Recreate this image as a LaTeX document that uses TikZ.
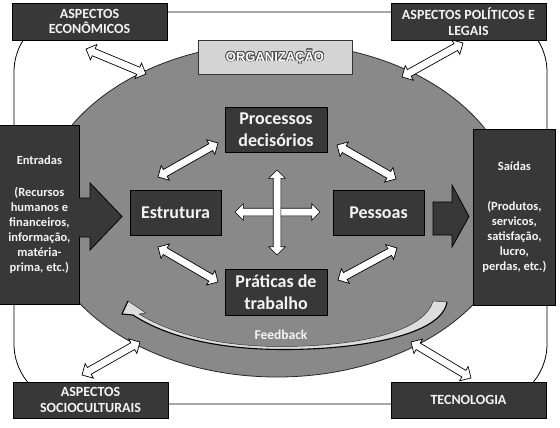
\documentclass[tikz,border=0pt]{standalone}
\usepackage{fontspec}
\setmainfont{Carlito}
\newfontfamily\orgfont{Liberation Sans}
\usepackage{contour}
\contourlength{0.7pt}
\usetikzlibrary{shapes.arrows,calc}
\definecolor{boxdark}{HTML}{383838}
\definecolor{ellgray}{HTML}{898989}
\definecolor{orgfill}{HTML}{D4D4D4}
\definecolor{txtw}{HTML}{F4F4F4}
\definecolor{fbfill}{HTML}{DDDDDD}
\tikzset{
 darkbox/.style={draw=black, fill=boxdark, text=txtw, line width=0.8pt, inner sep=0pt, align=center},
 outerlbl/.style={darkbox, minimum width=155pt, minimum height=37pt, font=\fontsize{14}{15.5}\selectfont\bfseries},
 innerbox/.style={darkbox, font=\fontsize{18}{22}\selectfont\bfseries},
 sidebox/.style={darkbox, font=\fontsize{12.5}{15}\selectfont\bfseries},
 dbl/.style={double arrow, draw=black, fill=white, line width=0.7pt, inner xsep=0pt, inner ysep=3.5pt, double arrow head extend=4.5pt},
}
\newcommand\dblarrow[2]{\path let \p1=($(#2)-(#1)$), \n1={atan2(\y1,\x1)}, \n2={veclen(\x1,\y1)} in node[dbl, rotate=\n1, minimum height=\n2] at ($(#1)!0.5!(#2)$) {};}
\begin{document}
\begin{tikzpicture}[x=1pt,y=-1pt]
\useasboundingbox (0,0) rectangle (560,428);
\fill[white] (0,0) rectangle (560,428);
% outer frame
\draw[line width=0.8pt, rounded corners=60pt] (14,12) rectangle (547,404);
% organisation ellipse
\draw[fill=ellgray, draw=black!85, line width=0.8pt] (277,210) ellipse [x radius=238, y radius=167];
\node[draw=black!80, fill=orgfill, minimum width=154pt, minimum height=34pt, inner sep=0pt, line width=0.8pt] (org) at (275,57)
  {\orgfont\bfseries\fontsize{13}{13}\selectfont\color{white}\contour{black!70}{ORGANIZAÇÃO}};
% feedback
\fill[fbfill] (128,301) -- (146,313) -- (139,314)
  .. controls (175,336) and (225,346.5) .. (280,346.5)
  .. controls (355,346.5) and (424,333) .. (433,301)
  -- (447,302)
  .. controls (442,335) and (360,350) .. (280,349.5)
  .. controls (215,349) and (165,336) .. (133,315)
  -- (122,314) -- cycle;
\draw[black!80, line width=0.5pt] (128,301) -- (146,313) -- (139,314)
  .. controls (175,336) and (225,346.5) .. (280,346.5)
  .. controls (355,346.5) and (424,333) .. (433,301)
  -- (447,302);
\draw[black, line width=1.1pt] (447,302)
  .. controls (442,335) and (360,350) .. (280,349.5)
  .. controls (215,349) and (165,336) .. (133,315)
  -- (122,314) -- (128,301);
\node[text=txtw, font=\fontsize{13.5}{14}\selectfont\bfseries] (fb) at (281,335) {Feedback};
% inputs / outputs
\node[sidebox, minimum width=80pt, minimum height=179pt, anchor=north west] (ent) at (-1,125)
  {Entradas\\[17pt](Recursos\\humanos e\\financeiros,\\informação,\\matéria-\\prima, etc.)};
\fill[boxdark] (78.5,198) -- (90,198) -- (90,183) -- (122,216.5) -- (90,250) -- (90,237) -- (78.5,237) -- cycle;
\draw[black, line width=0.8pt] (79,198) -- (90,198) -- (90,183) -- (122,216.5) -- (90,250) -- (90,237) -- (79,237);
\node[sidebox, minimum width=82pt, minimum height=176pt, anchor=north west] (sai) at (473,129)
  {Saídas\\[25pt](Produtos,\\servicos,\\satisfação,\\lucro,\\perdas, etc.)};
\draw[black, fill=boxdark, line width=0.8pt] (433,202) -- (452,202) -- (452,185) -- (469,216.5) -- (452,247) -- (452,235) -- (433,235) -- cycle;
% inner boxes
\node[innerbox, minimum width=102pt, minimum height=45pt] (proc) at (276,129.5) {Processos\\decisórios};
\node[innerbox, minimum width=91pt, minimum height=45pt] (estr) at (175.5,212.5) {Estrutura};
\node[innerbox, minimum width=91pt, minimum height=45pt] (pess) at (378.5,212.5) {Pessoas};
\node[innerbox, minimum width=102pt, minimum height=46pt] (prat) at (276,292) {Práticas de\\trabalho};
% inner arrows
\coordinate (d1a) at (158,177); \coordinate (d1b) at (218,143);
\coordinate (d2a) at (337,145); \coordinate (d2b) at (396,179);
\coordinate (d3a) at (158,247); \coordinate (d3b) at (218,282);
\coordinate (d4a) at (338,280); \coordinate (d4b) at (397,248);
\coordinate (ha) at (235,212); \coordinate (hb) at (320,212);
\coordinate (va) at (277,170); \coordinate (vb) at (277,255);
\dblarrow{d1a}{d1b}
\dblarrow{d2a}{d2b}
\dblarrow{d3a}{d3b}
\dblarrow{d4a}{d4b}
\dblarrow{ha}{hb}
\dblarrow{va}{vb}
% environment
\coordinate (e1a) at (86,49); \coordinate (e1b) at (146,74);
\coordinate (e2a) at (402,77); \coordinate (e2b) at (463,43);
\coordinate (e3a) at (82,375); \coordinate (e3b) at (140,342);
\coordinate (e4a) at (411,342); \coordinate (e4b) at (471,378);
\dblarrow{e1a}{e1b}
\dblarrow{e2a}{e2b}
\dblarrow{e3a}{e3b}
\dblarrow{e4a}{e4b}
\node[outerlbl] (econ) at (89.5,21.5) {ASPECTOS\\ECONÔMICOS};
\node[outerlbl] (poli) at (468.5,21.5) {ASPECTOS POLÍTICOS E\\LEGAIS};
\node[outerlbl, minimum height=36pt] (soc) at (90.5,400) {ASPECTOS\\SOCIOCULTURAIS};
\node[outerlbl, minimum height=36pt] (tec) at (468.5,400) {TECNOLOGIA};
\end{tikzpicture}
\end{document}
